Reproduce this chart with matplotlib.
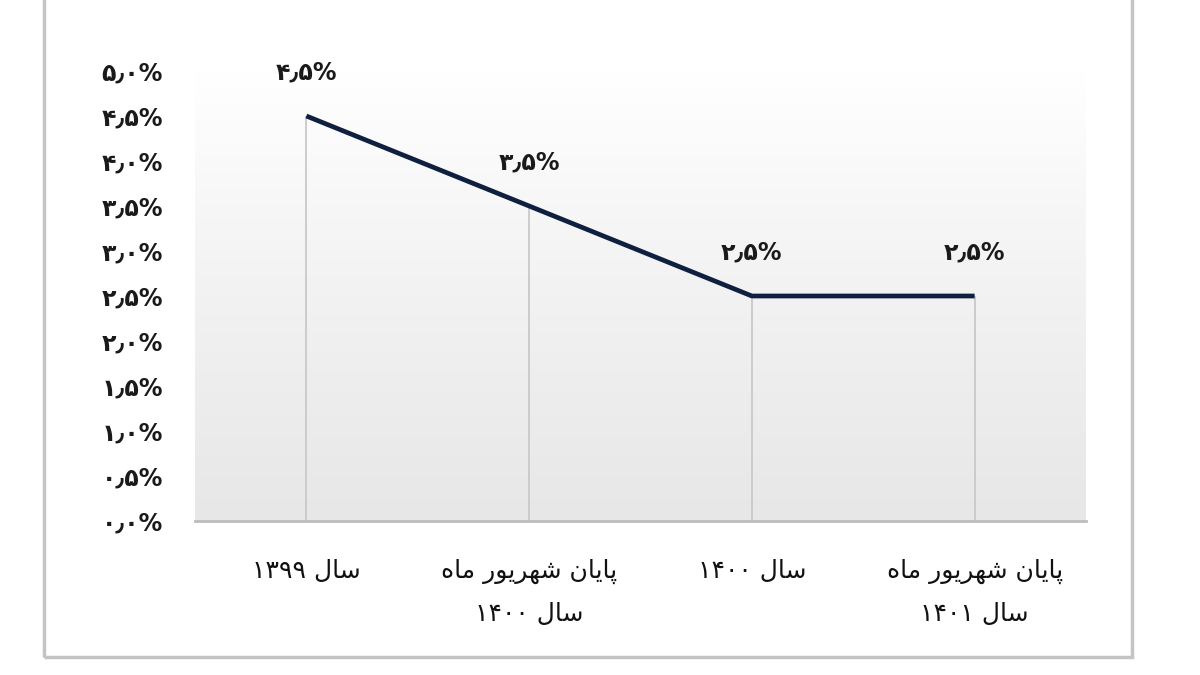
import matplotlib
matplotlib.use("Agg")
import matplotlib.pyplot as plt
import numpy as np
from matplotlib.patches import Rectangle
from matplotlib.colors import LinearSegmentedColormap

# ---------------- data ----------------
categories = ["سال ۱۳۹۹", "پایان شهریور ماه\nسال ۱۴۰۰", "سال ۱۴۰۰", "پایان شهریور ماه\nسال ۱۴۰۱"]
values = [4.5, 3.5, 2.5, 2.5]
y_ticks = [0.0, 0.5, 1.0, 1.5, 2.0, 2.5, 3.0, 3.5, 4.0, 4.5, 5.0]

# ---------------- minimal Persian shaping (logical -> visual) ----------------
FORMS = {  # iso, fin, ini, med
    'ا': ('\uFE8D', '\uFE8E', None, None),
    'ر': ('\uFEAD', '\uFEAE', None, None),
    'و': ('\uFEED', '\uFEEE', None, None),
    'ل': ('\uFEDD', '\uFEDE', '\uFEDF', '\uFEE0'),
    'س': ('\uFEB1', '\uFEB2', '\uFEB3', '\uFEB4'),
    'ش': ('\uFEB5', '\uFEB6', '\uFEB7', '\uFEB8'),
    'پ': ('\uFB56', '\uFB57', '\uFB58', '\uFB59'),
    'ی': ('\uFBFC', '\uFBFD', '\uFBFE', '\uFBFF'),
    'ن': ('\uFEE5', '\uFEE6', '\uFEE7', '\uFEE8'),
    'ه': ('\uFEE9', '\uFEEA', '\uFEEB', '\uFEEC'),
    'م': ('\uFEE1', '\uFEE2', '\uFEE3', '\uFEE4'),
}
DIGITS = "۰۱۲۳۴۵۶۷۸۹"


def dual(c):
    return c in FORMS and FORMS[c][2] is not None


def shape_word(w):
    if not any(c in FORMS for c in w):
        return w
    out = []
    for i, c in enumerate(w):
        if c not in FORMS:
            out.append(c)
            continue
        prev = w[i - 1] if i > 0 else None
        nxt = w[i + 1] if i + 1 < len(w) else None
        jp = prev is not None and dual(prev)
        jn = dual(c) and nxt is not None and nxt in FORMS
        iso, fin, ini, med = FORMS[c]
        if jp and jn:
            out.append(med)
        elif jn:
            out.append(ini)
        elif jp:
            out.append(fin)
        else:
            out.append(iso)
    return "".join(reversed(out))


def visual(line):
    words = line.split(" ")
    return " ".join(shape_word(w) for w in reversed(words))


def fa_label(text):
    return "\n".join(visual(l) for l in text.split("\n"))


def fa_num(v, nd=1):
    s = f"{v:.{nd}f}"
    s = "".join(DIGITS[int(ch)] if ch.isdigit() else ("٫" if ch == "." else ch) for ch in s)
    return s + "%"


# ---------------- figure ----------------
W, H = 1200, 675
fig = plt.figure(figsize=(12, 6.75), dpi=100)
fig.patch.set_facecolor("white")

# outer frame (top edge lies outside the image)
fig.patches.append(Rectangle((44 / W, 1 - 657 / H), (1132 - 44) / W, 1.0,
                             transform=fig.transFigure, fill=False,
                             edgecolor="#c4c4c4", linewidth=2.5, zorder=0))

ax = fig.add_axes([195 / W, 1 - 521 / H, (1086 - 195) / W, (521 - 71) / H])
x = np.arange(len(values))
ax.set_xlim(-0.5, len(values) - 0.5)
ax.set_ylim(0, 5)

# gradient background
grad = np.linspace(0, 1, 256).reshape(-1, 1)
cmap = LinearSegmentedColormap.from_list("bg", ["#e7e7e7", "#eeeeee", "#f6f6f6", "#ffffff"])
ax.imshow(grad, extent=[-0.5, len(values) - 0.5, 0, 5], origin="lower",
          aspect="auto", cmap=cmap, zorder=0)

# drop lines
ax.vlines(x, 0, values, colors="#c9c9c9", linewidth=1.3, zorder=1)
# line
ax.plot(x, values, color="#0e1f3f", linewidth=3.4, solid_capstyle="butt", zorder=3)

# data labels
for xi, v in zip(x, values):
    ax.annotate(fa_num(v), (xi, v), xytext=(0, 23), textcoords="offset points",
                ha="center", va="bottom", fontsize=17, fontweight="bold",
                family=["DejaVu Sans"], color="#1a1a1a")

# axes styling
for s in ["left", "right", "top"]:
    ax.spines[s].set_visible(False)
ax.spines["bottom"].set_color("#bdbdbd")
ax.spines["bottom"].set_linewidth(2)
ax.spines["bottom"].set_zorder(4)

ax.set_yticks(y_ticks)
ax.set_yticklabels([fa_num(t) for t in y_ticks], fontsize=17, fontweight="bold",
                   family=["DejaVu Sans"], color="#1a1a1a")
ax.tick_params(axis="y", length=0, pad=23)

ax.set_xticks(x)
ax.set_xticklabels([fa_label(c) for c in categories], fontsize=18,
                   family=["DejaVu Sans"], color="#111111", linespacing=1.95)
ax.tick_params(axis="x", length=0, pad=27)

fig.savefig("out.png", dpi=100, facecolor="white")
